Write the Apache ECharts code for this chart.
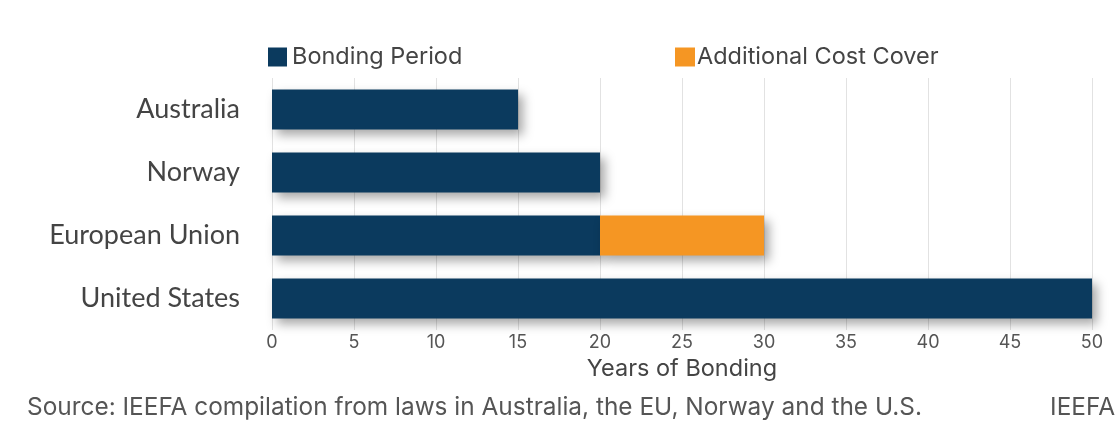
<!DOCTYPE html>
<html>
<head>
    <meta charset="utf-8">
    <title>Years of Bonding</title>
    <script src="https://cdn.jsdelivr.net/npm/echarts@6/dist/echarts.min.js"></script>
    <style>
        html, body { margin: 0; padding: 0; background: #fff; }
        #chart { width: 1117px; height: 428px; }
    </style>
</head>
<body>
    <div id="chart"></div>
    <script type="text/javascript">
        // data
        const countries = ['Australia', 'Norway', 'European Union', 'United States'];
        const bondingPeriod = [15, 20, 20, 50];
        const additionalCover = [0, 0, 10, 0];
        const xTicks = { min: 0, max: 50, interval: 5 };

        const navy = '#0b3a5e';
        const orange = '#f59623';
        const shadow = {
            shadowBlur: 10,
            shadowOffsetX: 5,
            shadowOffsetY: 5,
            shadowColor: 'rgba(0, 0, 0, 0.35)'
        };

        const chart = echarts.init(document.getElementById('chart'), null, { renderer: 'canvas' });
        chart.setOption({
            animation: false,
            textStyle: { fontFamily: 'Inter' },
            legend: [{
                data: ['Bonding Period'],
                left: 268, top: 45, padding: 0,
                itemWidth: 19, itemHeight: 19,
                icon: 'rect',
                textStyle: { fontFamily: 'Inter', fontSize: 23.5, color: '#444' }
            }, {
                data: ['Additional Cost Cover'],
                left: 675, top: 45, padding: 0,
                itemWidth: 20, itemHeight: 19,
                icon: 'rect',
                textStyle: { fontFamily: 'Inter', fontSize: 23.5, color: '#444', padding: [0, 0, 0, -3] }
            }],
            grid: { left: 272, right: 25, top: 78, height: 252, containLabel: false },
            xAxis: {
                type: 'value',
                min: xTicks.min, max: xTicks.max, interval: xTicks.interval,
                name: 'Years of Bonding',
                nameLocation: 'middle',
                nameGap: 26,
                nameTextStyle: { fontFamily: 'Inter', fontSize: 23.5, color: '#444' },
                axisLine: { show: false },
                axisTick: { show: false },
                axisLabel: { fontFamily: 'Inter', fontSize: 18, color: '#555', margin: 4 },
                splitLine: { show: true, lineStyle: { color: '#e2e2e2', width: 1 } }
            },
            yAxis: {
                type: 'category',
                data: countries,
                inverse: true,
                axisLine: { show: false },
                axisTick: { show: false },
                axisLabel: { fontFamily: 'Lato', fontSize: 27, color: '#444', margin: 32 }
            },
            series: [{
                name: 'Bonding Period',
                type: 'bar',
                stack: 'total',
                data: bondingPeriod,
                barWidth: 40,
                itemStyle: Object.assign({ color: navy }, shadow)
            }, {
                name: 'Additional Cost Cover',
                type: 'bar',
                stack: 'total',
                data: additionalCover,
                barWidth: 40,
                itemStyle: Object.assign({ color: orange }, shadow)
            }],
            graphic: [{
                type: 'text',
                left: 27, top: 396,
                style: {
                    text: 'Source: IEEFA compilation from laws in Australia, the EU, Norway and the U.S.',
                    fontFamily: 'Inter', fontSize: 24.4, fill: '#555'
                }
            }, {
                type: 'text',
                right: 2, top: 396,
                style: { text: 'IEEFA', fontFamily: 'Inter', fontSize: 24.4, fill: '#555' }
            }]
        });

        window.addEventListener('resize', function () {
            chart.resize();
        });
    </script>
</body>
</html>
